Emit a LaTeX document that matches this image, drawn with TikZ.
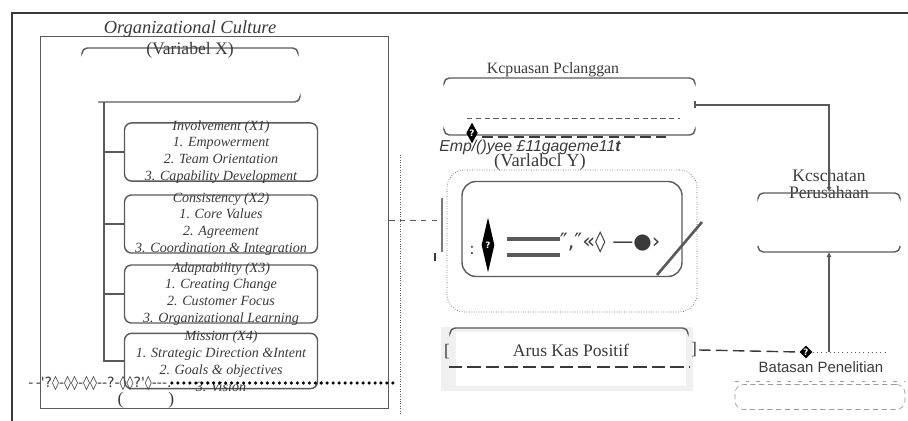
\documentclass[tikz,border=0pt]{standalone}
\usepackage{fontspec}
\setmainfont{Liberation Serif}
\setsansfont{Liberation Sans}
\newfontfamily\symfont{DejaVu Sans}
\usetikzlibrary{shapes.geometric,positioning,arrows.meta}
\definecolor{linegray}{HTML}{5A5A5A}
\definecolor{textgray}{HTML}{3A3A3A}

\begin{document}
\begin{tikzpicture}[x=0.02cm, y=-0.02cm,
                    dim box/.style={draw=linegray, thick, rounded corners=4pt, align=center,
                                    font=\fontsize{8}{9.6}\selectfont\itshape, text=textgray,
                                    minimum width=3.86cm, inner ysep=-1.5pt},
                    brace line/.style={draw=linegray, thick, rounded corners=3pt},
                    qmark/.style={diamond, fill=black, text=white, inner sep=0pt,
                                  font=\symfont\bfseries\fontsize{5}{5}\selectfont},
                    label text/.style={text=textgray, inner sep=1pt}]

  \useasboundingbox (0,0) rectangle (908,421);
  \draw[line width=1.5pt, textgray] (12,421) -- (12,13) -- (908,13);

  \node[draw=linegray, thick, anchor=north west, minimum width=6.96cm, minimum height=7.44cm] (orgbox) at (40,36) {};
  \node[label text, font=\fontsize{10.5}{12}\selectfont\itshape] (orgtitle) at (190,29) {Organizational Culture};
  \draw[brace line] (82,53) |- (190,48) -| (298,53);
  \node[label text, font=\fontsize{10}{12}\selectfont] (vx) at (190,50) {(Variabel X)};
  \draw[brace line] (98,102) -| (300,97);

  \node[dim box] (inv) at (221,152) {Involvement (X1)\\1. Empowerment\\2. Team Orientation\\3. Capability Development};
  \node[dim box] (con) at (221,224) {Consistency (X2)\\1. Core Values\\2. Agreement\\3. Coordination \& Integration};
  \node[dim box] (ada) at (221,294) {Adaptability (X3)\\1. Creating Change\\2. Customer Focus\\3. Organizational Learning};
  \node[dim box] (mis) at (221,361) {Mission (X4)\\1. Strategic Direction \&Intent\\2. Goals \& objectives\\3. Vision};

  \coordinate (treetop) at (104,102);
  \draw[linegray, thick] (treetop) |- (mis.west);
  \foreach \b in {inv,con,ada}
    \draw[linegray, thick] (treetop |- \b.west) -- (\b.west);

  \node[font=\symfont\fontsize{8}{8}\selectfont, text=textgray, anchor=west, inner sep=0pt] (garble) at (28,383) {-\,-{}'?◊-◊◊-◊◊-{}-?-◊◊?'◊-{}-{}-.};
  \coordinate (dotend) at (396,383);
  \draw[black, line width=2pt, line cap=round, dash pattern=on 0pt off 3.4pt] (garble.east) -- (dotend);
  \node[label text, font=\fontsize{10}{12}\selectfont] (xfoot) at (146,400) {(\hspace{0.9cm})};

  \draw[linegray, densely dotted] (400,155) -- (400,415);
  \node[fill=linegray!80, minimum width=1.5pt, minimum height=1.1cm, inner sep=0pt] (vbar) at (442,225) {};
  \node[fill=textgray, minimum width=1.5pt, minimum height=0.16cm, inner sep=0pt] (vtick) at (435,257) {};
  \draw[linegray, dashed] (orgbox.east |- 0,220) -- (vbar.west |- 0,220);

  % Kcpuasan Pclanggan
  \node[label text, font=\fontsize{9}{11}\selectfont] (kp) at (553,70) {Kcpuasan Pclanggan};
  \draw[brace line] (444,83) |- (570,78) -| (695,83);
  \draw[brace line] (444,130) |- (570,135) -| (695,130);
  \draw[linegray, densely dashed, thin] (467,118) -- (680,118);
  \draw[textgray, line width=1.2pt, dash pattern=on 6pt off 3pt] (482,137) -- (668,137);
  \node[qmark, minimum width=0.2cm, minimum height=0.42cm] (q1) at (472,133) {?};
  \node[fill=linegray, minimum width=1.2pt, minimum height=0.14cm, inner sep=0pt] (ktick) at (695,105) {};

  \node[label text, font=\sffamily\itshape\fontsize{9}{11}\selectfont] (emp) at (530,147) {Emp/()yee £11gageme11\textbf{t}};
  \node[label text, font=\fontsize{10.5}{12}\selectfont] (vy) at (540,162) {(Varlabcl Y)};
  \node[draw=linegray, densely dotted, rounded corners=10pt, minimum width=5cm, minimum height=2.84cm] (empbox) at (572,241) {};
  \node[draw=linegray, thick, rounded corners=8pt, minimum width=4.4cm, minimum height=1.9cm] (empin) at (572,229) {};

  \node[qmark, minimum width=0.26cm, minimum height=1.1cm] (q2) at (488,245) {?};
  \node[label text, font=\symfont\fontsize{9}{9}\selectfont] (dots) at (472,250) {:};
  \draw[linegray, line width=2.8pt] (507,239) -- (560,239);
  \draw[linegray, line width=2.8pt] (507,255) -- (560,255);
  \node[font=\symfont\fontsize{12}{12}\selectfont, text=textgray, inner sep=0pt] (sym) at (610,242) {″‚″«◊ —●›};
  \draw[linegray, line width=1.5pt] (657,275) -- (702,222);

  % Arus Kas Positif
  \node[fill=black!6, minimum width=5.04cm, minimum height=1.3cm] (arusbg) at (567,359) {};
  \node[fill=white, minimum width=4.62cm, minimum height=1.08cm] (arusin) at (571,359) {};
  \draw[brace line] (450,333) |- (570,328) -| (688,333);
  \node[label text, font=\fontsize{10}{12}\selectfont] (arus) at (571,350) {Arus Kas Positif};
  \node[label text, font=\fontsize{10}{12}\selectfont] (lbr) at (447,352) {[};
  \node[label text, font=\fontsize{10}{12}\selectfont] (rbr) at (694,350) {]};
  \draw[textgray, line width=1.3pt, dash pattern=on 7.5pt off 3pt] (449,367) -- (690,367);

  \node[qmark, minimum width=0.26cm, minimum height=0.26cm] (q3) at (806,352) {?};
  \draw[textgray, thick, dash pattern=on 6.6pt off 3pt] (rbr.east) -- (q3.west);
  \coordinate (dotR) at (885,352);
  \draw[linegray, dotted] (q3.east) -- (dotR);

  % Kcschatan Perusahaan
  \node[label text, align=center, font=\fontsize{10}{10.2}\selectfont] (kes) at (829,184) {Kcschatan\\Perusahaan};
  \node[minimum width=2.84cm, minimum height=1.18cm] (kesbox) at (829,222) {};
  \draw[brace line] (758,198) |- (829,193) -| (900,198);
  \draw[brace line] (758,246) |- (829,252) -| (900,246);
  \draw[linegray, thick, -{Latex[length=3pt,width=3pt]}] (ktick) -| (kesbox.north);
  \draw[linegray, thick, -{Latex[length=3pt,width=3pt]}] (kesbox.south |- 0,352) -- (kesbox.south);

  \node[label text, font=\sffamily\fontsize{8.5}{10}\selectfont] (bat) at (821,367) {Batasan Penelitian};
  \node[draw=linegray!60, densely dashed, rounded corners=5pt, minimum width=3.4cm, minimum height=0.5cm] (batbox) at (820,397) {};
  \draw[linegray!60, dash pattern=on 2pt off 4pt] (735,381) -- (905,381);

\end{tikzpicture}
\end{document}
